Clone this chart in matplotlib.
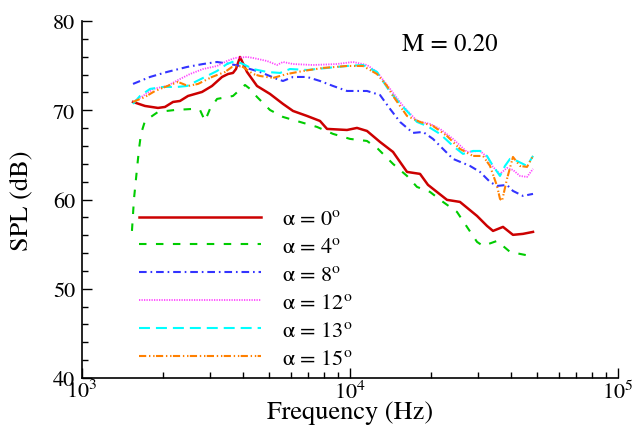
import numpy as np
import matplotlib
matplotlib.use("Agg")
import matplotlib.pyplot as plt
from matplotlib.ticker import MultipleLocator, LogLocator, NullFormatter

# SPL spectra (frequency in Hz, SPL in dB)
f_a0 = [1550, 1718, 1921, 2040, 2186, 2321, 2486, 2804, 3055, 3330, 3506, 3659, 3755, 3887,
        4128, 4498, 5028, 5623, 6130, 6914, 7728, 8209, 9745, 10619, 11571, 12940, 14470,
        16320, 18250, 19540, 23010, 25720, 29780, 32450, 34170, 37230, 40560, 44210, 48180]
spl_a0 = [70.93, 70.48, 70.26, 70.37, 70.93, 71.04, 71.60, 72.05, 72.72, 73.73, 74.06, 74.18,
          74.62, 75.97, 74.29, 72.72, 71.83, 70.71, 69.92, 69.36, 68.80, 67.91, 67.79, 68.02,
          67.68, 66.45, 65.33, 63.09, 62.87, 61.64, 59.96, 59.73, 58.16, 57.04, 56.48, 56.93,
          56.04, 56.15, 56.37]

f_a4 = [1536, 1563, 1604, 1632, 1660, 1718, 1921, 2223, 2595, 2756, 2877, 3003, 3191, 3659,
        4058, 4237, 4498, 5028, 5623, 6508, 7532, 8645, 10000, 11571, 12719, 14470, 16320,
        17780, 19880, 22230, 25070, 27320, 29780, 31360, 35360, 39540, 46950, 48180]
spl_a4 = [56.48, 60.07, 63.43, 65.67, 67.35, 68.80, 69.81, 70.03, 70.15, 70.03, 68.80, 70.15,
          71.27, 71.60, 72.83, 72.39, 71.49, 70.03, 69.25, 68.69, 68.13, 67.35, 66.79, 66.56,
          65.67, 63.99, 62.64, 61.41, 60.85, 59.73, 58.61, 56.93, 55.25, 54.80, 55.36, 54.13,
          53.68, 53.57]

f_a8 = [1550, 1794, 2076, 2465, 2829, 3191, 3566, 3887, 4237, 4616, 5342, 5623, 6130, 6914,
        7728, 8645, 9745, 11571, 12940, 14107, 15370, 17180, 18730, 20400, 22230, 24230,
        28040, 30560, 33300, 35360, 38530, 40560, 44210, 48180]
spl_a8 = [72.95, 73.73, 74.29, 74.85, 75.18, 75.41, 75.18, 74.96, 74.62, 74.29, 73.50, 73.28,
          73.73, 73.73, 73.28, 72.72, 72.16, 72.16, 71.71, 70.15, 68.69, 67.46, 67.57, 66.79,
          65.67, 64.55, 63.76, 63.09, 61.97, 61.52, 61.63, 60.96, 60.40, 60.63]

f_a12 = [1550, 1689, 1841, 2076, 2321, 2529, 2829, 3191, 3475, 3723, 4128, 4347, 4900, 5342,
         5623, 6130, 7278, 8945, 10261, 11571, 12610, 14107, 15770, 17780, 19880, 21670,
         24230, 27320, 30560, 32450, 34170, 36280, 38530, 40560, 43080, 45760, 48180]
spl_a12 = [70.93, 71.60, 72.39, 72.72, 73.50, 74.06, 74.62, 74.96, 75.52, 75.86, 75.97, 75.86,
           75.52, 75.07, 75.41, 75.18, 75.07, 75.18, 75.41, 75.07, 74.29, 72.39, 70.48, 68.80,
           68.47, 67.91, 66.79, 65.33, 65.44, 64.77, 63.65, 62.87, 63.54, 63.31, 62.64, 62.53,
           63.43]

f_a13 = [1550, 1646, 1794, 2005, 2262, 2465, 2686, 2927, 3191, 3475, 3723, 3988, 4347, 4900,
         5483, 5972, 6914, 8209, 9745, 11180, 12610, 14107, 15770, 17780, 19380, 21670, 24230,
         26400, 28770, 30560, 32450, 34170, 36280, 37870, 39540, 41990, 45760, 48180]
spl_a13 = [70.71, 71.60, 72.39, 72.61, 72.61, 72.72, 73.28, 73.84, 74.40, 75.18, 75.52, 75.18,
           74.62, 74.29, 74.18, 74.62, 74.51, 74.74, 74.96, 75.07, 74.29, 72.05, 70.37, 68.69,
           68.24, 67.35, 66.00, 65.11, 65.44, 65.44, 64.88, 63.76, 62.64, 63.76, 64.55, 64.32,
           63.76, 64.88]

f_a15 = [1550, 1718, 1873, 2040, 2282, 2486, 2710, 3055, 3417, 3628, 3820, 3988, 4347, 4616,
         5161, 5820, 6678, 7931, 9745, 11180, 12610, 13746, 14470, 16320, 18250, 20400, 23010,
         25720, 28770, 31360, 33300, 35360, 36280, 36920, 38530, 40560, 43080, 45760, 48180]
spl_a15 = [70.93, 71.49, 72.16, 72.61, 73.17, 72.72, 72.95, 73.73, 74.29, 74.85, 74.96, 74.85,
           74.06, 73.84, 73.62, 74.06, 74.40, 74.74, 74.96, 74.96, 74.06, 72.72, 71.60, 69.36,
           68.69, 68.24, 67.12, 65.67, 64.88, 64.88, 63.76, 61.52, 60.07, 59.84, 62.31, 64.77,
           63.76, 63.65, 64.88]

angles = [0, 4, 8, 12, 13, 15]

plt.rcParams['font.family'] = 'STIXGeneral'
plt.rcParams['mathtext.fontset'] = 'stix'
plt.rcParams['lines.scale_dashes'] = False

fig = plt.figure(figsize=(6.34, 4.27), dpi=100)
ax = fig.add_axes([82 / 634, 1 - 379 / 427, 536 / 634, 357 / 427])

ax.plot(f_a0, spl_a0, color='#cc0000', lw=1.8, ls='-')
ax.plot(f_a4, spl_a4, color='#00cc00', lw=1.5, dashes=(5.4, 6.8))
ax.plot(f_a8, spl_a8, color='#3333ff', lw=1.5, dashes=(5.5, 2.8, 1.2, 2.8))
ax.plot(f_a12, spl_a12, color='#ff44ff', lw=1.3, dashes=(0.9, 0.9))
ax.plot(f_a13, spl_a13, color='#00ffff', lw=1.5, dashes=(7.9, 4.3))
ax.plot(f_a15, spl_a15, color='#ff8000', lw=1.5, dashes=(5.2, 2.0, 1.0, 2.0, 1.0, 1.0))

for line, a in zip(ax.get_lines(), angles):
    line.set_label('\u03b1 = %d$^\\mathrm{o}$' % a)

ax.set_xscale('log')
ax.set_xlim(1e3, 1e5)
ax.set_ylim(40, 80)
ax.yaxis.set_major_locator(MultipleLocator(10))
ax.yaxis.set_minor_locator(MultipleLocator(2))
ax.xaxis.set_minor_locator(LogLocator(base=10, subs=np.arange(2, 10)))
ax.xaxis.set_minor_formatter(NullFormatter())

for s in ['top', 'right']:
    ax.spines[s].set_visible(False)
for s in ['left', 'bottom']:
    ax.spines[s].set_linewidth(1.2)

ax.tick_params(which='both', direction='in', width=1.0, labelsize=16)
ax.tick_params(which='major', length=7)
ax.tick_params(which='minor', length=4.5)
ax.tick_params(axis='y', pad=5)
ax.tick_params(axis='x', pad=1.5)

ax.set_xlabel('Frequency (Hz)', fontsize=19)
ax.set_ylabel('SPL (dB)', fontsize=19)
ax.xaxis.set_label_coords(0.5, -0.062)
ax.yaxis.set_label_coords(-0.091, 0.5)

ax.text(0.687, 0.936, 'M = 0.20', transform=ax.transAxes, fontsize=18,
        ha='center', va='center')

ax.legend(loc='upper left', bbox_to_anchor=(0.106, 0.474), frameon=False, fontsize=16,
          handlelength=5.5, handletextpad=0.95, labelspacing=0.33, borderpad=0,
          borderaxespad=0)

fig.savefig('out.png', dpi=100)
